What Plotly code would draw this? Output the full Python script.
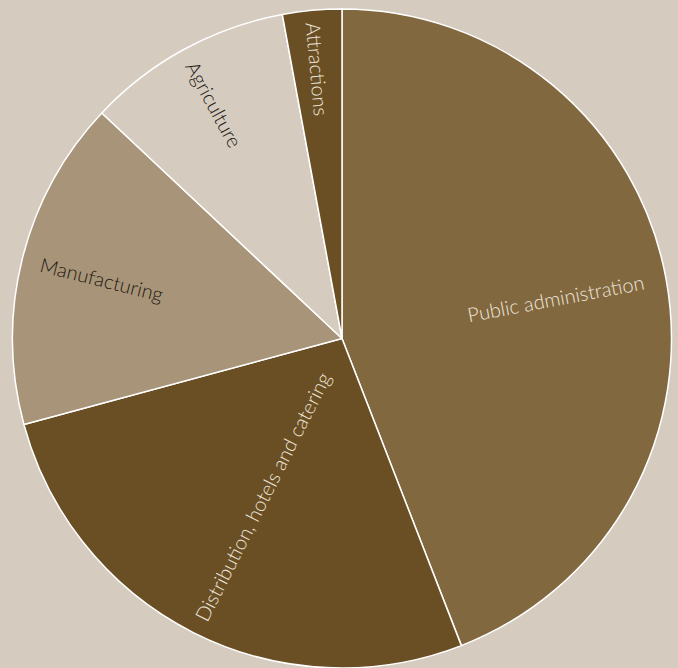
import math
import plotly.graph_objects as go

labels = ["Public administration", "Distribution, hotels and catering",
          "Manufacturing", "Agriculture", "Attractions"]
values = [44.1, 26.7, 16.2, 10.1, 2.9]
colors = ["#82683f", "#6b4f24", "#a89478", "#d5cbbf", "#6b4f24"]
text_colors = ["#ece5da", "#ece5da", "#1e1a14", "#1e1a14", "#ece5da"]
label_radius = [0.66, 0.535, 0.75, 0.81, 0.82]  # fraction of pie radius for label centre

W, H = 678, 668
ML, MR, MT, MB = 12, 6, 9, 0
plot_w, plot_h = W - ML - MR, H - MT - MB
R = min(plot_w, plot_h) / 2

fig = go.Figure(go.Pie(
    labels=labels,
    values=values,
    sort=False,
    direction="clockwise",
    rotation=0,
    marker=dict(colors=colors, line=dict(color="#ffffff", width=1.5)),
    textinfo="none",
    hoverinfo="label+percent",
    showlegend=False,
))

total = sum(values)
cum = 0.0
annotations = []
for lab, v, col, rf in zip(labels, values, text_colors, label_radius):
    mid = (cum + v / 2) / total * 360.0
    cum += v
    th = math.radians(mid)
    d = rf * R
    x = 0.5 + d * math.sin(th) / plot_w
    y = 0.5 + d * math.cos(th) / plot_h
    ang = mid - 90
    if ang > 90:
        ang -= 180
    annotations.append(dict(
        x=x, y=y, xref="paper", yref="paper",
        text=lab, showarrow=False, textangle=ang,
        xanchor="center", yanchor="middle",
        font=dict(family="Lato", size=20, color=col, weight=300),
    ))

fig.update_layout(
    width=W, height=H,
    margin=dict(l=ML, r=MR, t=MT, b=MB),
    paper_bgcolor="#d5cbbf",
    plot_bgcolor="#d5cbbf",
    annotations=annotations,
)

fig.write_html("out.html")
